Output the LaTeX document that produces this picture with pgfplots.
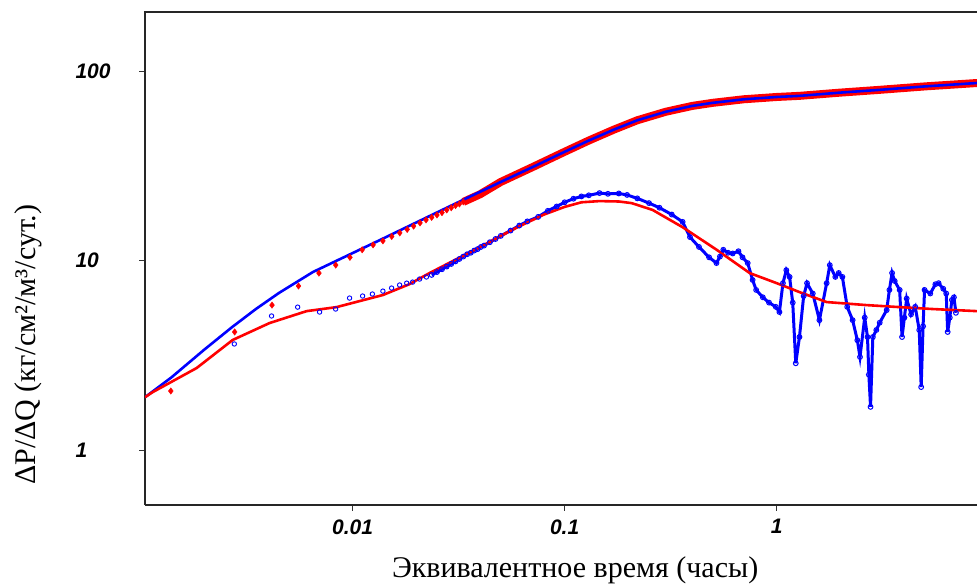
\documentclass[border=0pt]{standalone}
\usepackage{fontspec}
\setmainfont{Liberation Serif}
\newfontfamily\arialf{Liberation Sans}
\usepackage{pgfplots}
\pgfplotsset{compat=1.18}
\begin{document}
\begin{tikzpicture}
\begin{axis}[
 name=ax,
 scale only axis, width=832pt, height=493pt,
 xmode=log, ymode=log,
 xmin=0.00105, xmax=8.8, ymin=0.513, ymax=205,
 axis lines*=left, axis line style={-, line width=2.4pt, black!85},
 xtick={0.01,0.1,1}, xticklabels={0.01,0.1,1},
 ytick={1,10,100}, yticklabels={1,10,100},
 minor tick length=0pt, minor tick style={draw=none},
 tick align=outside, major tick length=6pt, tick style={black!80, line width=1pt},
 tick label style={font=\arialf\bfseries\itshape\fontsize{21}{21}\selectfont},
 yticklabel style={anchor=west, xshift=-67pt},
 xticklabel style={yshift=-5pt},
 xlabel={Эквивалентное время (часы)},
 ylabel={ΔP/ΔQ (кг/см²/м³/сут.)},
 label style={font=\fontsize{30}{32}\selectfont},
 xlabel style={at={(axis description cs:0.517,-0.148)}, anchor=base},
 ylabel style={at={(axis description cs:-0.1406,0.325)}, anchor=center},
]
% pressure data (red diamonds), sparse early part
\addplot[only marks, mark=diamond*, mark size=3.2pt, color=red] coordinates {
(0.00139,2.05)(0.00278,4.2)(0.00417,5.82)(0.00556,7.34)(0.00694,8.59)(0.00833,9.47)
(0.00972,10.4)(0.0111,11.4)(0.0125,12.1)(0.0139,12.7)(0.0153,13.4)(0.0167,14.0)
(0.0181,14.6)(0.0194,15.2)(0.0208,15.8)(0.0222,16.4)(0.0236,16.9)(0.025,17.4)
(0.0264,17.9)(0.0278,18.5)(0.0292,19.0)(0.0306,19.5)(0.0319,19.9)(0.0333,20.4)};
% pressure data, dense part
\addplot[red, line width=8pt] coordinates {
(0.0333,20.4)(0.04,22.4)(0.05,26)(0.07,31)(0.1,37.5)(0.13,43)(0.17,49)(0.22,55)
(0.3,61)(0.4,65.5)(0.5,68)(0.7,71)(1,73)(1.28,74)(2,77)(3,79.5)(5,83)(8.8,86.5)};
% pressure model (blue line)
\addplot[blue, line width=2.6pt] coordinates {
(0.00105,1.9)(0.0014,2.42)(0.002,3.39)(0.0027,4.45)(0.0035,5.55)(0.0045,6.75)
(0.0065,8.7)(0.01,10.95)(0.0134,12.8)(0.02,15.9)(0.03,19.8)(0.05,26)(0.07,31)
(0.1,37.5)(0.13,43)(0.17,49)(0.22,55)(0.3,61)(0.4,65.5)(0.5,68)(0.7,71)(1,73)
(1.28,74)(2,77)(3,79.5)(5,83)(8.8,86.5)};
% derivative data (blue circles), sparse early part
\addplot[only marks, mark=o, mark size=2.2pt, mark options={line width=0.9pt}, color=blue] coordinates {
(0.00277,3.63)(0.00415,5.1)(0.00551,5.68)(0.00699,5.35)(0.00832,5.55)(0.00968,6.34)
(0.01115,6.5)(0.0124,6.66)(0.0139,6.9)(0.01528,7.16)(0.01667,7.43)(0.018,7.6)
(0.0192,7.7)(0.0207,7.99)(0.0223,8.19)};
% derivative data, dense part
\addplot[blue, line width=3pt, mark=o, mark size=2.4pt, mark options={line width=1pt}] coordinates {
(0.0236,8.4)(0.025,8.7)(0.0264,9.0)(0.0278,9.3)(0.0292,9.6)(0.0306,9.9)(0.0319,10.2)
(0.0333,10.5)(0.0347,10.8)(0.0361,11.0)(0.0375,11.3)(0.0389,11.5)(0.0403,11.8)
(0.0417,12.0)(0.0444,12.5)(0.0472,13.0)(0.05,13.5)(0.0556,14.4)(0.0611,15.3)
(0.0667,16.1)(0.075,17.0)(0.0833,18.3)(0.0917,19.3)(0.1,20.3)(0.11,21.2)(0.12,21.8)
(0.13,22.1)(0.146,22.7)(0.16,22.5)(0.18,22.6)(0.197,22.2)(0.22,21.3)(0.25,20.1)
(0.28,19.0)(0.32,17.5)(0.36,16.0)(0.39,13.3)(0.43,11.8)(0.48,10.4)(0.52,9.7)
(0.54,10.5)(0.56,11.4)(0.59,11.0)(0.62,10.9)(0.66,11.2)(0.69,10.4)(0.73,9.7)
(0.77,7.9)(0.8,7.0)(0.86,6.4)(0.92,6.0)(0.99,5.7)(1.03,5.35)(1.07,7.6)(1.11,8.9)
(1.15,8.2)(1.19,6.0)(1.23,2.87)(1.28,3.95)(1.34,6.5)(1.39,7.6)(1.48,6.7)(1.59,4.85)
(1.72,7.6)(1.78,9.46)(1.89,8.2)(1.96,8.6)(2.04,8.2)(2.15,5.7)(2.28,4.85)(2.4,3.8)
(2.47,3.1)(2.6,5.0)(2.68,3.95)(2.72,2.5)(2.77,1.69)(2.84,3.95)(2.95,4.3)(3.06,4.7)
(3.3,5.48)(3.4,7.0)(3.5,8.6)(3.6,7.8)(3.8,7.0)(3.9,3.95)(4.0,5.0)(4.1,6.3)(4.3,5.2)
(4.5,5.7)(4.7,4.3)(4.8,2.15)(4.9,4.5)(4.98,7.0)(5.3,6.7)(5.6,7.5)(5.8,7.6)(6.1,7.1)
(6.3,6.7)(6.4,4.2)(6.55,5.0)(6.7,6.2)(6.85,6.4)(7.0,5.3)};
% derivative model (red line)
\addplot[red, line width=2.6pt] coordinates {
(0.00105,1.9)(0.00114,2.02)(0.00184,2.71)(0.00272,3.81)(0.00406,4.68)(0.00607,5.41)
(0.0084,5.68)(0.0139,6.58)(0.0185,7.5)(0.0231,8.6)(0.03,10.0)(0.04,11.8)(0.05,13.5)
(0.06,15.0)(0.08,17.5)(0.1,19.2)(0.12,20.3)(0.146,20.6)(0.18,20.5)(0.207,20.1)
(0.26,18.5)(0.36,15.0)(0.521,11.4)(0.746,8.59)(1.0,7.6)(1.28,6.82)(1.72,6.04)
(2.66,5.82)(3.8,5.68)(5.44,5.55)(8.8,5.41)};
\end{axis}
\draw[line width=2.4pt, black!85] ([xshift=-1.2pt]ax.north west) -- (ax.north east);
\pgfresetboundingbox
\path ([xshift=-145pt,yshift=-80pt]ax.south west) rectangle ([yshift=12pt]ax.north east);
\end{tikzpicture}
\end{document}
